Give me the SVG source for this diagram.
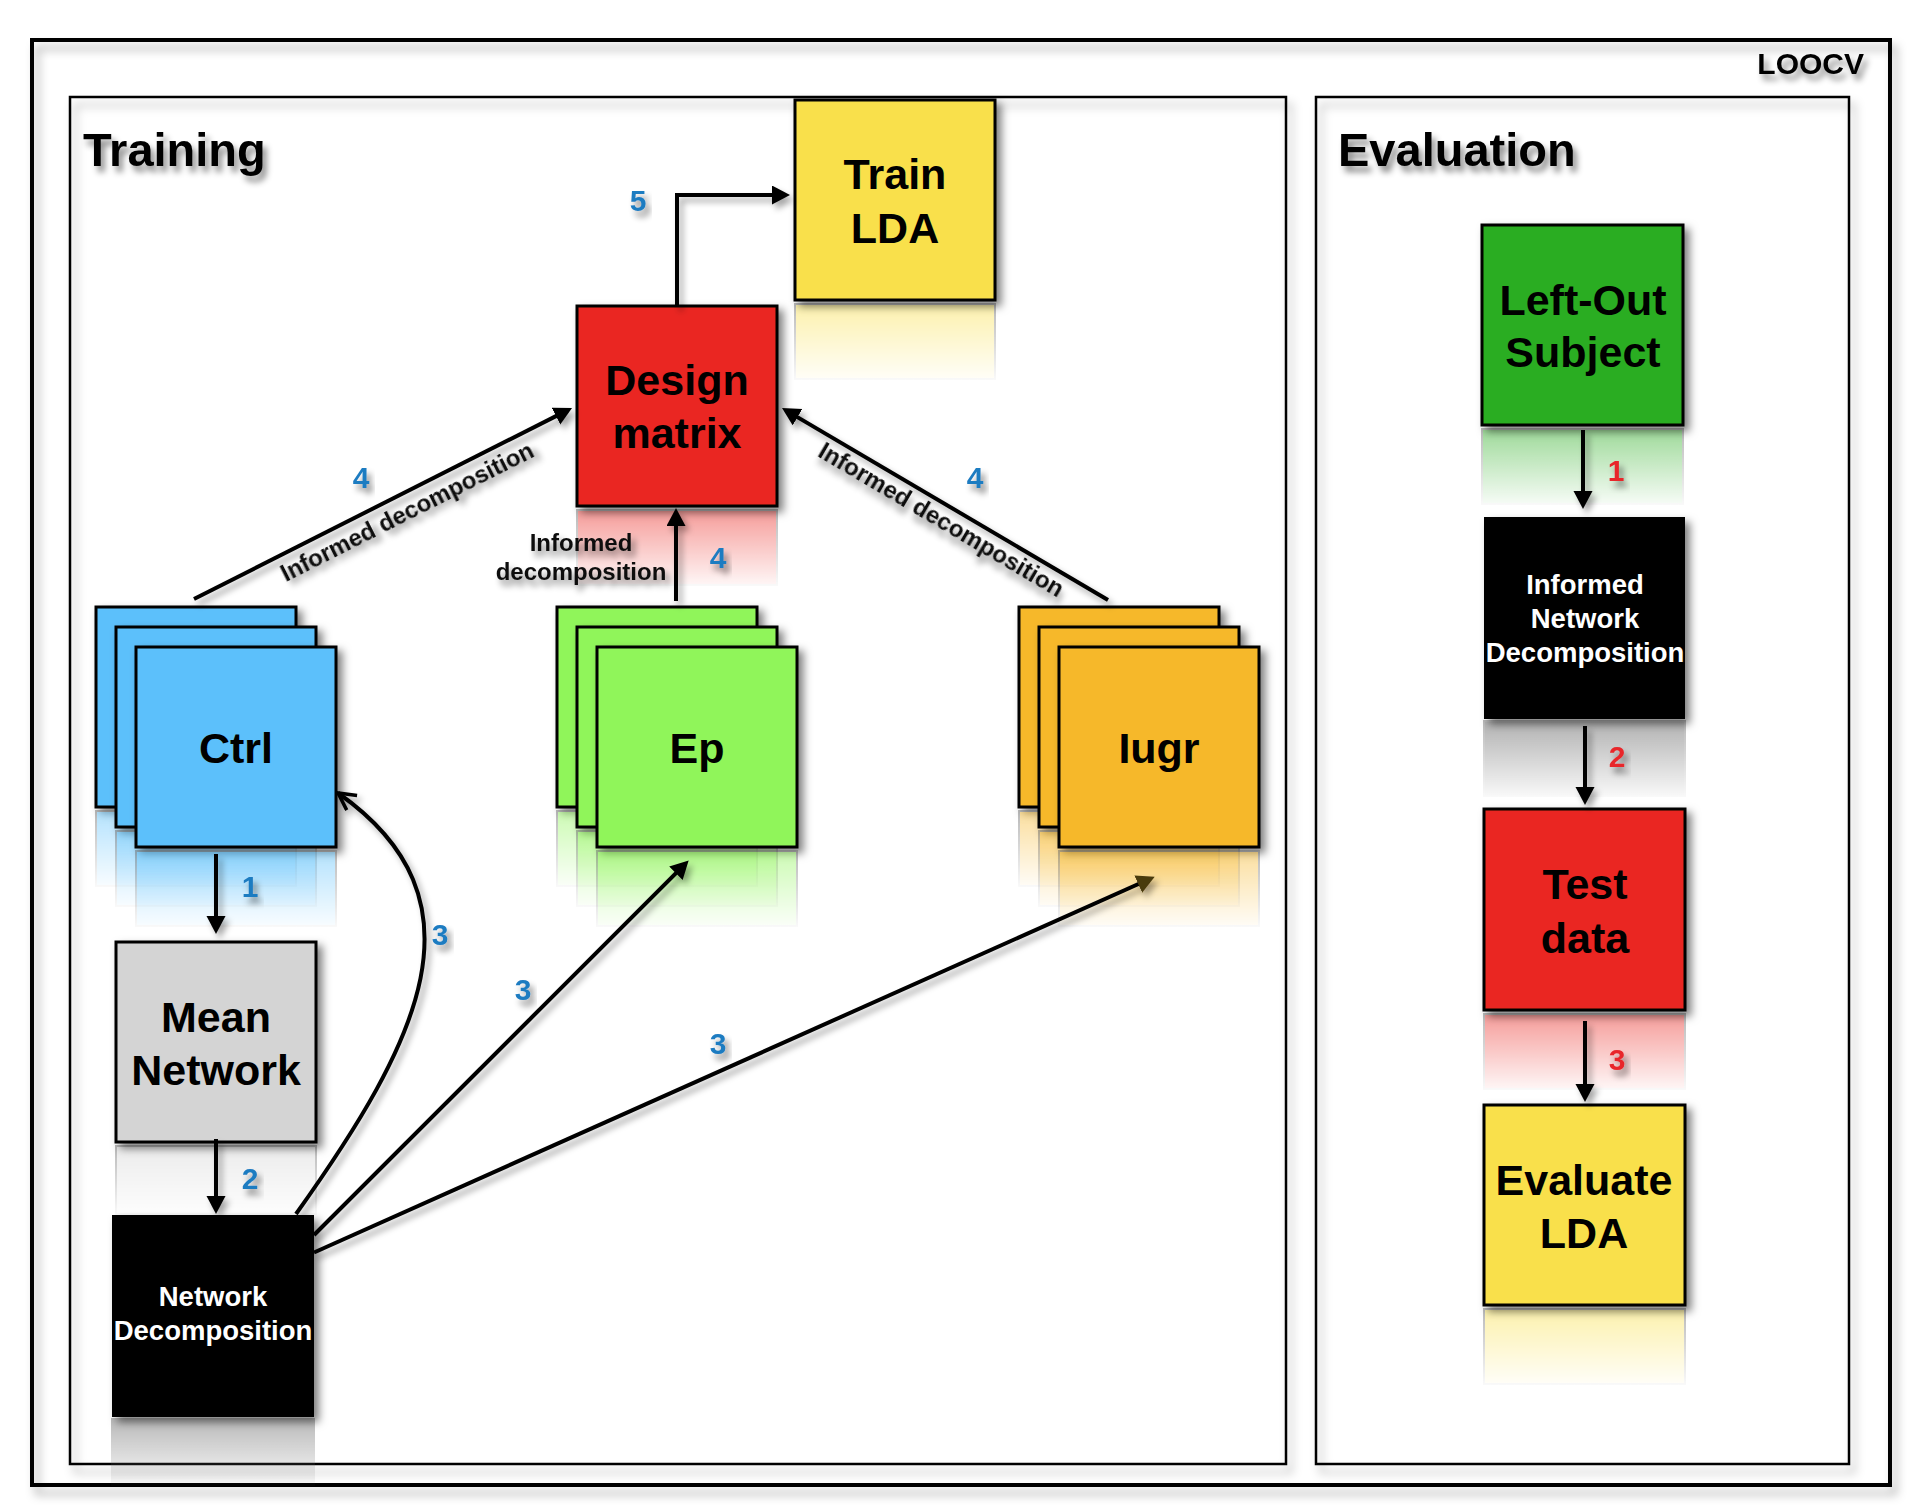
<svg xmlns="http://www.w3.org/2000/svg" width="1920" height="1506" viewBox="0 0 1920 1506">
<style>
text{font-family:"Liberation Sans",Arial,Helvetica,sans-serif;font-weight:bold;}
.title{font-size:47px;fill:#000;filter:url(#tsh);}
.node{font-size:43px;fill:#000;text-anchor:middle;}
.wnode{font-size:27.5px;fill:#fff;text-anchor:middle;}
.num{font-size:30px;fill:#1f7bc1;text-anchor:middle;filter:url(#tsh);}
.rnum{font-size:30px;fill:#e8262a;text-anchor:middle;filter:url(#tsh);}
.lab{font-size:24px;fill:#111;text-anchor:middle;filter:url(#tsh);}
.card{stroke:#000;stroke-width:3;filter:url(#sh);}
.refl{stroke:#666;stroke-width:2;mask:url(#fade);}
.frame{fill:none;stroke:#000;filter:url(#fsh);}
.conn{fill:none;stroke:#000;stroke-width:4;}
</style>
<defs>
<filter id="sh" x="-20%" y="-20%" width="150%" height="150%"><feDropShadow dx="5" dy="5" stdDeviation="4" flood-color="#000" flood-opacity="0.5"/></filter>
<filter id="tsh" x="-20%" y="-30%" width="150%" height="180%"><feDropShadow dx="4" dy="6" stdDeviation="3" flood-color="#000" flood-opacity="0.45"/></filter>
<filter id="csh" x="-20%" y="-20%" width="150%" height="150%"><feDropShadow dx="4" dy="5" stdDeviation="3" flood-color="#000" flood-opacity="0.35"/></filter>
<filter id="fsh" x="-5%" y="-5%" width="110%" height="110%"><feDropShadow dx="5" dy="8" stdDeviation="5" flood-color="#000" flood-opacity="0.3"/></filter>
<linearGradient id="fadeg" x1="0" y1="0" x2="0" y2="1"><stop offset="0" stop-color="#fff" stop-opacity="0.5"/><stop offset="1" stop-color="#fff" stop-opacity="0"/></linearGradient>
<mask id="fade" maskContentUnits="objectBoundingBox"><rect x="-0.1" y="-0.1" width="1.2" height="1.2" fill="url(#fadeg)"/></mask>
<marker id="ah" markerUnits="userSpaceOnUse" markerWidth="20" markerHeight="20" refX="10" refY="9.5" orient="auto"><path d="M0,0 L18,9.5 L0,19 z" fill="#000"/></marker>
<marker id="ahb" markerUnits="userSpaceOnUse" markerWidth="20" markerHeight="20" refX="10" refY="9.5" orient="auto"><path d="M0,0 L18,9.5 L0,19 z" fill="#4a3a10"/></marker>
<marker id="ao" markerUnits="userSpaceOnUse" markerWidth="24" markerHeight="24" refX="19" refY="10" orient="auto"><path d="M2,1 L19,10 L2,19" fill="none" stroke="#000" stroke-width="3.5"/></marker>
</defs>
<rect x="0" y="0" width="1920" height="1506" fill="#fff"/>

<g id="frames">
<rect class="frame" x="32" y="40" width="1858" height="1445" stroke-width="4"/>
<rect class="frame" x="70" y="97" width="1216" height="1367" stroke-width="2.5"/>
<rect class="frame" x="1316" y="97" width="533" height="1367" stroke-width="2.5"/>
<text x="1864" y="74" font-size="30" text-anchor="end" filter="url(#tsh)">LOOCV</text>
<text class="title" x="83" y="166">Training</text>
<text class="title" x="1338" y="166">Evaluation</text>
</g>

<g id="train-lda">
<rect class="refl" x="795" y="304" width="200" height="75" fill="#f9e04b"/>
<rect class="card" x="795" y="100" width="200" height="200" fill="#f9e04b"/>
<text class="node" x="895" y="189" font-size="42">Train</text>
<text class="node" x="895" y="243" font-size="42">LDA</text>
</g>

<g id="design-matrix">
<rect class="refl" x="577" y="510" width="200" height="75" fill="#ea2620"/>
<rect class="card" x="577" y="306" width="200" height="200" fill="#ea2620"/>
<text class="node" x="677" y="395">Design</text>
<text class="node" x="677" y="448">matrix</text>
</g>

<g id="ctrl">
<rect class="card" x="96" y="607" width="200" height="200" fill="#5bc0fb"/>
<rect class="refl" x="96" y="811" width="200" height="75" fill="#5bc0fb"/>
<rect class="card" x="116" y="627" width="200" height="200" fill="#5bc0fb"/>
<rect class="refl" x="116" y="831" width="200" height="75" fill="#5bc0fb"/>
<rect class="card" x="136" y="647" width="200" height="200" fill="#5bc0fb"/>
<rect class="refl" x="136" y="851" width="200" height="75" fill="#5bc0fb"/>
<text class="node" x="236" y="763" font-size="42">Ctrl</text>
</g>

<g id="ep">
<rect class="card" x="557" y="607" width="200" height="200" fill="#90f55a"/>
<rect class="refl" x="557" y="811" width="200" height="75" fill="#90f55a"/>
<rect class="card" x="577" y="627" width="200" height="200" fill="#90f55a"/>
<rect class="refl" x="577" y="831" width="200" height="75" fill="#90f55a"/>
<rect class="card" x="597" y="647" width="200" height="200" fill="#90f55a"/>
<rect class="refl" x="597" y="851" width="200" height="75" fill="#90f55a"/>
<text class="node" x="697" y="763" font-size="42">Ep</text>
</g>

<g id="iugr">
<rect class="card" x="1019" y="607" width="200" height="200" fill="#f6b82c"/>
<rect class="refl" x="1019" y="811" width="200" height="75" fill="#f6b82c"/>
<rect class="card" x="1039" y="627" width="200" height="200" fill="#f6b82c"/>
<rect class="refl" x="1039" y="831" width="200" height="75" fill="#f6b82c"/>
<rect class="card" x="1059" y="647" width="200" height="200" fill="#f6b82c"/>
<rect class="refl" x="1059" y="851" width="200" height="75" fill="#f6b82c"/>
<text class="node" x="1159" y="763" font-size="42">Iugr</text>
</g>

<g id="mean-network">
<rect class="refl" x="116" y="1146" width="200" height="68" fill="#d4d4d4"/>
<rect class="card" x="116" y="942" width="200" height="200" fill="#d4d4d4"/>
<text class="node" x="216" y="1032">Mean</text>
<text class="node" x="216" y="1085">Network</text>
</g>

<g id="network-decomposition">
<rect class="refl" x="112" y="1419" width="202" height="66" fill="#666" stroke="none"/>
<rect x="112" y="1215" width="202" height="202" fill="#000" filter="url(#sh)"/>
<text class="wnode" x="213" y="1306">Network</text>
<text class="wnode" x="213" y="1340">Decomposition</text>
</g>

<g id="left-out-subject">
<rect class="refl" x="1482" y="429" width="201" height="75" fill="#2aad20"/>
<rect class="card" x="1482" y="225" width="201" height="200" fill="#2aad20"/>
<text class="node" x="1583" y="315">Left-Out</text>
<text class="node" x="1583" y="367">Subject</text>
</g>

<g id="informed-network-decomposition">
<rect class="refl" x="1484" y="721" width="201" height="75" fill="#555" stroke="none"/>
<rect x="1484" y="517" width="201" height="202" fill="#000" filter="url(#sh)"/>
<text class="wnode" x="1585" y="594">Informed</text>
<text class="wnode" x="1585" y="628">Network</text>
<text class="wnode" x="1585" y="662">Decomposition</text>
</g>

<g id="test-data">
<rect class="refl" x="1484" y="1014" width="201" height="75" fill="#ea2620"/>
<rect class="card" x="1484" y="809" width="201" height="201" fill="#ea2620"/>
<text class="node" x="1585" y="899">Test</text>
<text class="node" x="1585" y="953">data</text>
</g>

<g id="evaluate-lda">
<rect class="refl" x="1484" y="1309" width="201" height="75" fill="#f9e04b"/>
<rect class="card" x="1484" y="1105" width="201" height="200" fill="#f9e04b"/>
<text class="node" x="1584" y="1195">Evaluate</text>
<text class="node" x="1584" y="1248">LDA</text>
</g>

<g id="connectors" filter="url(#csh)">
<path class="conn" d="M677,306 V195 H782" marker-end="url(#ah)"/>
<path class="conn" d="M194,599 L564.9,411.6" marker-end="url(#ah)"/>
<path class="conn" d="M676,601 V516" marker-end="url(#ah)"/>
<path class="conn" d="M1108,600 L788.9,412.1" marker-end="url(#ah)"/>
<path class="conn" d="M216,854 V926" marker-end="url(#ah)"/>
<path class="conn" d="M216,1139 V1206" marker-end="url(#ah)"/>
<path class="conn" d="M296,1214 C420,1040 490,900 338,793" marker-end="url(#ao)"/>
<path class="conn" d="M314,1235 L683,866.2" marker-end="url(#ah)"/>
<path class="conn" d="M314,1252.5 L1147.4,880" marker-end="url(#ahb)"/>
<path class="conn" d="M1583,430 V501" marker-end="url(#ah)"/>
<path class="conn" d="M1585,726 V797" marker-end="url(#ah)"/>
<path class="conn" d="M1585,1021 V1094" marker-end="url(#ah)"/>
</g>

<g id="connector-labels">
<text class="num" x="638" y="211">5</text>
<text class="num" x="361" y="488">4</text>
<text class="num" x="718" y="568">4</text>
<text class="num" x="975" y="488">4</text>
<text class="num" x="250" y="897">1</text>
<text class="num" x="250" y="1189">2</text>
<text class="num" x="440" y="945">3</text>
<text class="num" x="523" y="1000">3</text>
<text class="num" x="718" y="1054">3</text>
<text class="rnum" x="1616" y="481">1</text>
<text class="rnum" x="1617" y="767">2</text>
<text class="rnum" x="1617" y="1070">3</text>
<text class="lab" transform="translate(410.8,519) rotate(-26.8)">Informed decomposition</text>
<text class="lab" transform="translate(937.2,526.8) rotate(30.5)">Informed decomposition</text>
<text class="lab" x="581" y="551">Informed</text>
<text class="lab" x="581" y="580">decomposition</text>
</g>
</svg>
